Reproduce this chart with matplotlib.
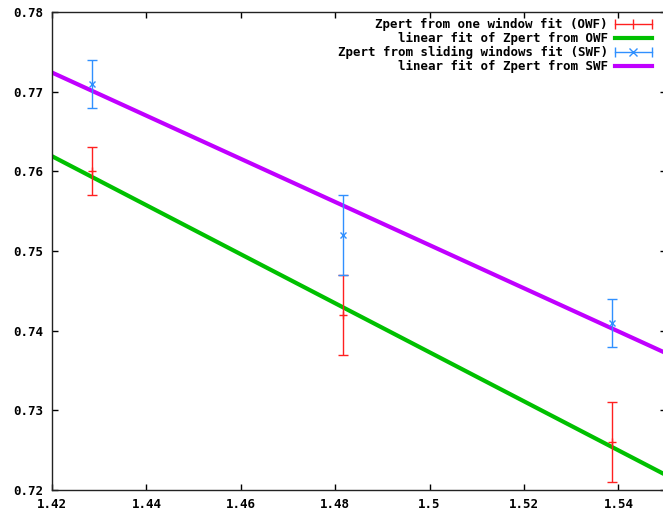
import matplotlib
matplotlib.use("Agg")
import matplotlib.pyplot as plt
from matplotlib.lines import Line2D
from matplotlib.legend_handler import HandlerLine2D, HandlerTuple

# ---- data ----
x_pts = [1.4285, 1.4816, 1.5386]
owf_y = [0.760, 0.742, 0.726]
owf_err = [0.003, 0.005, 0.005]
swf_y = [0.771, 0.752, 0.741]
swf_err = [0.003, 0.005, 0.003]
fit_x = [1.42, 1.55]
owf_fit = [0.7619, 0.7219]
swf_fit = [0.7724, 0.7372]

x_ticks = [1.42, 1.44, 1.46, 1.48, 1.50, 1.52, 1.54]
x_tick_labels = ['1.42', '1.44', '1.46', '1.48', '1.5', '1.52', '1.54']
y_ticks = [0.72, 0.73, 0.74, 0.75, 0.76, 0.77, 0.78]
y_tick_labels = ['0.72', '0.73', '0.74', '0.75', '0.76', '0.77', '0.78']

labels = ['Zpert from one window fit (OWF)',
          'linear fit of Zpert from OWF',
          'Zpert from sliding windows fit (SWF)',
          'linear fit of Zpert from SWF']

RED = '#ff2020'
GREEN = '#00c000'
BLUE = '#3090ff'
PURPLE = '#c000ff'

plt.rcParams['font.family'] = 'DejaVu Sans Mono'
plt.rcParams['font.weight'] = 'bold'
plt.rcParams['font.size'] = 9

W, H = 663, 513
fig = plt.figure(figsize=(W / 100, H / 100), dpi=100)
ax = fig.add_axes([52 / W, 23 / H, 613.6 / W, 478 / H])

ax.errorbar(x_pts, owf_y, yerr=owf_err, fmt='+', color=RED, ms=6, mew=1,
            elinewidth=1, capsize=3.5, capthick=1, zorder=3)
ax.plot(fit_x, owf_fit, color=GREEN, lw=3, solid_capstyle='butt', zorder=2)
ax.errorbar(x_pts, swf_y, yerr=swf_err, fmt='x', color=BLUE, ms=5, mew=1,
            elinewidth=1, capsize=3.5, capthick=1, zorder=3)
ax.plot(fit_x, swf_fit, color=PURPLE, lw=3, solid_capstyle='butt', zorder=2)

ax.set_xlim(1.42, 1.55)
ax.set_ylim(0.72, 0.78)
ax.set_xticks(x_ticks)
ax.set_xticklabels(x_tick_labels)
ax.set_yticks(y_ticks)
ax.set_yticklabels(y_tick_labels)
ax.tick_params(direction='in', length=4, width=1, top=True, right=True,
               colors='black', labelsize=9, pad=6)
for s in ax.spines.values():
    s.set_linewidth(1)
    s.set_color('#222222')

# legend (gnuplot style: text right-aligned, sample to the right)
def err_handle(color, marker, ms):
    ends = Line2D([], [], color=color, lw=1, marker='|', ms=7, mew=1)
    mid = Line2D([], [], color=color, lw=0, marker=marker, ms=ms, mew=1)
    return ends, mid

r_ends, r_mid = err_handle(RED, '|', 7)
b_ends, b_mid = err_handle(BLUE, 'x', 6)
g_line = Line2D([], [], color=GREEN, lw=3)
p_line = Line2D([], [], color=PURPLE, lw=3)

hmap = {
    r_ends: HandlerLine2D(numpoints=2, marker_pad=0),
    b_ends: HandlerLine2D(numpoints=2, marker_pad=0),
    r_mid: HandlerLine2D(numpoints=1),
    b_mid: HandlerLine2D(numpoints=1),
    tuple: HandlerTuple(ndivide=1, pad=0),
}
leg = ax.legend([(r_ends, r_mid), g_line, (b_ends, b_mid), p_line], labels,
                loc='upper right',
                bbox_to_anchor=((652 - 52) / 613.6, (490 - 18) / 478),
                bbox_transform=ax.transAxes,
                markerfirst=False, frameon=False, handlelength=3.0,
                handletextpad=0.55, labelspacing=0.08, borderpad=0,
                borderaxespad=0,
                handler_map=hmap, prop=dict(family='DejaVu Sans Mono',
                                            weight='bold', size=9))

fig.savefig('out.png', dpi=100)
